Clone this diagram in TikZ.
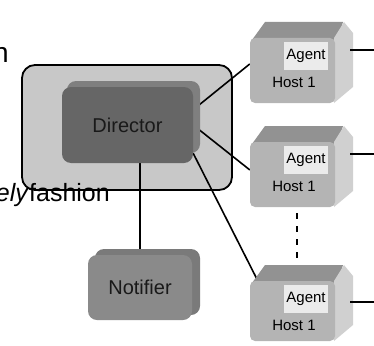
\documentclass[tikz,border=0pt]{standalone}
\usepackage{fontspec}
\setmainfont{Liberation Sans}
\usetikzlibrary{calc}
\pgfdeclarelayer{bg}
\pgfdeclarelayer{mid}
\pgfsetlayers{bg,mid,main}
\definecolor{outerfill}{HTML}{C8C8C8}
\definecolor{dirfront}{HTML}{666666}
\definecolor{dirback}{HTML}{7F7F7F}
\definecolor{notfront}{HTML}{8A8A8A}
\definecolor{notback}{HTML}{7A7A7A}
\definecolor{hostfront}{HTML}{B4B4B4}
\definecolor{hosttop}{HTML}{929292}
\definecolor{hostright}{HTML}{D0D0D0}
\definecolor{agentfill}{HTML}{EBEBEB}
\begin{document}
\begin{tikzpicture}[x=1pt,y=-1pt,
  bigtext/.style={font=\fontsize{25}{30}\selectfont, inner sep=0pt},
  boxtext/.style={font=\fontsize{20}{24}\selectfont, text=black!90},
  dirbox/.style={rounded corners=9pt, inner sep=0pt},
  hostfrontbox/.style={fill=hostfront, rounded corners=5pt, inner sep=0pt, minimum width=85pt},
  agentbox/.style={fill=agentfill, inner sep=0pt, minimum width=44pt, minimum height=28pt, font=\fontsize{15}{18}\selectfont},
  hosttext/.style={inner sep=0pt, font=\fontsize{15}{18}\selectfont},
  conn/.style={draw=black, line width=1.6pt},
  dashline/.style={draw=black, line width=1.7pt, dash pattern=on 6pt off 7pt},
]
\useasboundingbox (0,0) rectangle (374,345);

% partial texts
\node[bigtext, font=\fontsize{28}{32}\selectfont, anchor=base east] (t1) at (9,62) {n};
\node[bigtext, anchor=base east] (t2) at (110,201) {\textit{ely}fashion};

% outer container
\begin{pgfonlayer}{bg}
\draw[fill=outerfill, line width=1.8pt, rounded corners=13pt] (22,65) rectangle (232,190);
\end{pgfonlayer}

% Director
\node[dirbox, fill=dirback, minimum width=133pt, minimum height=72pt] (ds) at (133.5,117) {};
\node[dirbox, fill=dirfront, minimum width=131pt, minimum height=76pt, boxtext] (d) at (127.5,125) {Director};

% Notifier
\node[dirbox, fill=notback, minimum width=105pt, minimum height=66pt] (ns) at (147.5,282) {};
\node[dirbox, fill=notfront, minimum width=104pt, minimum height=65pt, boxtext] (nf) at (140,287.5) {Notifier};

% Hosts
\foreach \n/\T/\H/\L in {1/22/81/28, 2/126/81/28, 3/265/76/37} {
  \fill[hosttop] (252,\T+18) -- (265,\T) -- (343,\T) -- (337,\T+18) -- cycle;
  \fill[hostright] (334,\T+16) -- (344,\T) -- (353,\T+11) -- (353,\T+\H-16) -- (334,\T+\H) -- cycle;
  \node[hostfrontbox, minimum height={(\H-16)*1pt}] (h\n) at (292.5,{\T+(16+\H)/2}) {};
  \node[agentbox] (a\n) at (306,\T+34) {Agent};
  \node[hosttext] (l\n) at (294,\T+60) {Host 1};
  \coordinate (r\n) at (374,\T+\L);
  \draw[conn] ($(h\n.east |- r\n)+(15,0)$) -- (r\n);
}

% connectors
\begin{pgfonlayer}{mid}
\draw[conn] ($(d.north east)!0.30!(d.south east)$) -- ($(h1.north west)!0.40!(h1.south west)$);
\draw[conn] ($(d.north east)!0.50!(d.south east)$) -- ($(h2.north west)!0.43!(h2.south west)$);
\draw[conn] ($(d.north east)!0.87!(d.south east)$) -- ($(h3.north west)+(8,0)$);
\draw[conn] (nf.north |- d.south) -- (nf.north);
\end{pgfonlayer}
\draw[dashline] ($(h2.south)+(4.5,6)$) -- ($(h3.north)+(4.5,-23)$);
\end{tikzpicture}
\end{document}
